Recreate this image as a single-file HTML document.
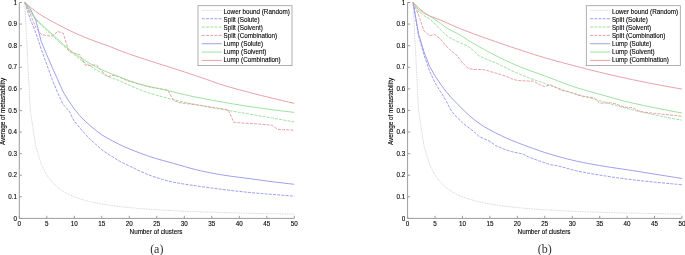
<!DOCTYPE html>
<html><head><meta charset="utf-8"><style>
html,body{margin:0;padding:0;background:#fff;width:685px;height:255px;overflow:hidden}
text{stroke:#000;stroke-width:0.1px}
svg{display:block;-webkit-font-smoothing:antialiased;will-change:transform;filter:blur(0.35px)}
</style></head><body>
<svg width="685" height="255" viewBox="0 0 685 255" font-family='"Liberation Sans", sans-serif' font-size="6.3" fill="#000">
<rect width="685" height="255" fill="#fff"/>
<polyline points="24.80,2.50 30.30,110.45 35.80,146.43 41.30,164.43 46.80,175.22 52.30,182.42 57.80,187.56 63.30,191.41 68.80,194.41 74.30,196.81 79.80,198.77 85.30,200.41 90.80,201.79 96.30,202.98 101.80,204.01 107.30,204.91 112.80,205.70 118.30,206.41 123.80,207.04 129.30,207.61 134.80,208.12 140.30,208.59 145.80,209.01 151.30,209.40 156.80,209.76 162.30,210.10 167.80,210.40 173.30,210.69 178.80,210.96 184.30,211.20 189.80,211.44 195.30,211.65 200.80,211.86 206.30,212.05 211.80,212.23 217.30,212.40 222.80,212.56 228.30,212.72 233.80,212.86 239.30,213.00 244.80,213.13 250.30,213.26 255.80,213.38 261.30,213.49 266.80,213.60 272.30,213.71 277.80,213.81 283.30,213.90 288.80,213.99 294.30,214.08" fill="none" stroke="#cdcdcd" stroke-width="0.9" stroke-dasharray="0.9,0.8"/>
<polyline points="24.80,2.50 30.30,19.34 35.80,32.73 41.30,49.35 46.80,64.68 52.30,79.79 57.80,93.18 63.30,104.62 68.80,110.45 74.30,121.25 79.80,127.72 85.30,134.20 90.80,140.03 96.30,144.78 101.80,149.74 107.30,153.63 112.80,156.87 118.30,160.54 123.80,163.35 129.30,165.94 134.80,168.57 140.30,171.23 145.80,173.72 151.30,175.82 156.80,177.68 162.30,179.37 167.80,180.86 173.30,182.13 178.80,183.19 184.30,184.11 189.80,184.95 195.30,185.74 200.80,186.53 206.30,187.31 211.80,188.06 217.30,188.78 222.80,189.47 228.30,190.14 233.80,190.78 239.30,191.40 244.80,191.99 250.30,192.55 255.80,193.05 261.30,193.53 266.80,193.98 272.30,194.44 277.80,194.88 283.30,195.32 288.80,195.75 294.30,196.16" fill="none" stroke="#9494ea" stroke-width="0.9" stroke-dasharray="3,1.2" stroke-linejoin="round"/>
<polyline points="24.80,2.50 30.30,12.22 35.80,19.77 41.30,25.17 46.80,30.57 52.30,35.53 57.80,40.71 63.30,45.68 68.80,50.43 74.30,54.75 79.80,59.07 85.30,62.95 90.80,66.41 96.30,69.86 101.80,73.14 107.30,76.15 112.80,78.45 118.30,80.25 123.80,82.66 129.30,85.38 134.80,87.69 140.30,89.85 145.80,91.85 151.30,93.67 156.80,95.30 162.30,96.78 167.80,98.21 173.30,99.58 178.80,100.90 184.30,102.16 189.80,103.37 195.30,104.52 200.80,105.61 206.30,106.65 211.80,107.65 217.30,108.61 222.80,109.56 228.30,110.48 233.80,111.40 239.30,112.33 244.80,113.26 250.30,114.22 255.80,115.18 261.30,116.14 266.80,117.11 272.30,118.07 277.80,119.02 283.30,119.98 288.80,120.94 294.30,121.89" fill="none" stroke="#94de94" stroke-width="0.9" stroke-dasharray="3,1.2" stroke-linejoin="round"/>
<polyline points="24.80,2.50 30.30,14.37 35.80,27.33 41.30,34.45 46.80,35.75 52.30,35.96 57.80,31.43 63.30,33.37 68.80,51.08 74.30,53.24 79.80,54.75 85.30,65.11 90.80,65.54 96.30,64.68 101.80,70.94 107.30,76.77 112.80,75.26 118.30,76.55 123.80,79.14 129.30,81.52 134.80,83.03 140.30,84.54 145.80,86.05 151.30,87.35 156.80,88.21 162.30,89.08 167.80,89.94 173.30,100.30 178.80,102.46 184.30,103.33 189.80,103.97 195.30,104.62 200.80,105.48 206.30,106.35 211.80,107.21 217.30,108.08 222.80,108.94 228.30,110.02 233.80,122.32 239.30,122.76 244.80,123.19 250.30,123.40 255.80,123.84 261.30,124.27 266.80,124.70 272.30,125.35 277.80,129.45 283.30,129.67 288.80,129.88 294.30,130.10" fill="none" stroke="#e6969c" stroke-width="0.9" stroke-dasharray="3,1.2" stroke-linejoin="round"/>
<polyline points="24.80,2.50 30.30,8.98 35.80,20.20 41.30,41.79 46.80,54.96 52.30,67.70 57.80,79.79 63.30,92.10 68.80,101.17 74.30,108.94 79.80,115.63 85.30,121.25 90.80,126.21 96.30,130.74 101.80,134.85 107.30,138.09 112.80,141.11 118.30,143.91 123.80,146.51 129.30,148.88 134.80,151.04 140.30,153.20 145.80,155.14 151.30,157.08 156.80,158.77 162.30,160.33 167.80,161.84 173.30,163.35 178.80,164.91 184.30,166.49 189.80,168.05 195.30,169.50 200.80,170.81 206.30,171.99 211.80,173.08 217.30,174.08 222.80,175.00 228.30,175.84 233.80,176.60 239.30,177.31 244.80,178.02 250.30,178.75 255.80,179.50 261.30,180.25 266.80,180.99 272.30,181.70 277.80,182.38 283.30,183.04 288.80,183.67 294.30,184.29" fill="none" stroke="#9494ea" stroke-width="0.9" stroke-linejoin="round"/>
<polyline points="24.80,2.50 30.30,11.57 35.80,18.69 41.30,24.09 46.80,29.27 52.30,34.24 57.80,39.20 63.30,44.38 68.80,49.13 74.30,53.45 79.80,57.34 85.30,60.79 90.80,64.03 96.30,67.05 101.80,69.72 107.30,72.17 112.80,74.38 118.30,76.37 123.80,78.53 129.30,80.68 134.80,82.49 140.30,84.15 145.80,85.65 151.30,87.00 156.80,88.16 162.30,89.35 167.80,90.63 173.30,91.95 178.80,93.27 184.30,94.56 189.80,95.81 195.30,96.96 200.80,98.05 206.30,99.12 211.80,100.17 217.30,101.18 222.80,102.16 228.30,103.12 233.80,104.05 239.30,104.94 244.80,105.81 250.30,106.65 255.80,107.45 261.30,108.24 266.80,109.00 272.30,109.73 277.80,110.44 283.30,111.12 288.80,111.77 294.30,112.39" fill="none" stroke="#94de94" stroke-width="0.9" stroke-linejoin="round"/>
<polyline points="24.80,2.50 30.30,7.25 35.80,11.57 41.30,15.24 46.80,18.48 52.30,21.50 57.80,24.52 63.30,27.33 68.80,30.14 74.30,32.73 79.80,35.10 85.30,37.48 90.80,39.63 96.30,41.79 101.80,43.70 107.30,45.55 112.80,47.65 118.30,49.99 123.80,52.08 129.30,54.05 134.80,55.94 140.30,57.77 145.80,59.57 151.30,61.37 156.80,63.12 162.30,64.84 167.80,66.57 173.30,68.34 178.80,70.12 184.30,71.92 189.80,73.74 195.30,75.57 200.80,77.43 206.30,79.31 211.80,81.29 217.30,83.26 222.80,85.06 228.30,86.70 233.80,88.26 239.30,89.76 244.80,91.22 250.30,92.68 255.80,94.10 261.30,95.49 266.80,96.85 272.30,98.19 277.80,99.50 283.30,100.80 288.80,102.08 294.30,103.33" fill="none" stroke="#e6969c" stroke-width="0.9" stroke-linejoin="round"/>
<path d="M19.30,2.50 V218.40 H294.30" fill="none" stroke="#9c9c9c" stroke-width="1"/>
<path d="M19.30,218.40 v-2.6" stroke="#9c9c9c" stroke-width="1"/>
<text x="19.30" y="225.80" text-anchor="middle">0</text>
<path d="M46.80,218.40 v-2.6" stroke="#9c9c9c" stroke-width="1"/>
<text x="46.80" y="225.80" text-anchor="middle">5</text>
<path d="M74.30,218.40 v-2.6" stroke="#9c9c9c" stroke-width="1"/>
<text x="74.30" y="225.80" text-anchor="middle">10</text>
<path d="M101.80,218.40 v-2.6" stroke="#9c9c9c" stroke-width="1"/>
<text x="101.80" y="225.80" text-anchor="middle">15</text>
<path d="M129.30,218.40 v-2.6" stroke="#9c9c9c" stroke-width="1"/>
<text x="129.30" y="225.80" text-anchor="middle">20</text>
<path d="M156.80,218.40 v-2.6" stroke="#9c9c9c" stroke-width="1"/>
<text x="156.80" y="225.80" text-anchor="middle">25</text>
<path d="M184.30,218.40 v-2.6" stroke="#9c9c9c" stroke-width="1"/>
<text x="184.30" y="225.80" text-anchor="middle">30</text>
<path d="M211.80,218.40 v-2.6" stroke="#9c9c9c" stroke-width="1"/>
<text x="211.80" y="225.80" text-anchor="middle">35</text>
<path d="M239.30,218.40 v-2.6" stroke="#9c9c9c" stroke-width="1"/>
<text x="239.30" y="225.80" text-anchor="middle">40</text>
<path d="M266.80,218.40 v-2.6" stroke="#9c9c9c" stroke-width="1"/>
<text x="266.80" y="225.80" text-anchor="middle">45</text>
<path d="M294.30,218.40 v-2.6" stroke="#9c9c9c" stroke-width="1"/>
<text x="294.30" y="225.80" text-anchor="middle">50</text>
<path d="M19.30,218.40 h2.6" stroke="#9c9c9c" stroke-width="1"/>
<text x="16.90" y="220.60" text-anchor="end">0</text>
<path d="M19.30,196.81 h2.6" stroke="#9c9c9c" stroke-width="1"/>
<text x="16.90" y="199.01" text-anchor="end">0.1</text>
<path d="M19.30,175.22 h2.6" stroke="#9c9c9c" stroke-width="1"/>
<text x="16.90" y="177.42" text-anchor="end">0.2</text>
<path d="M19.30,153.63 h2.6" stroke="#9c9c9c" stroke-width="1"/>
<text x="16.90" y="155.83" text-anchor="end">0.3</text>
<path d="M19.30,132.04 h2.6" stroke="#9c9c9c" stroke-width="1"/>
<text x="16.90" y="134.24" text-anchor="end">0.4</text>
<path d="M19.30,110.45 h2.6" stroke="#9c9c9c" stroke-width="1"/>
<text x="16.90" y="112.65" text-anchor="end">0.5</text>
<path d="M19.30,88.86 h2.6" stroke="#9c9c9c" stroke-width="1"/>
<text x="16.90" y="91.06" text-anchor="end">0.6</text>
<path d="M19.30,67.27 h2.6" stroke="#9c9c9c" stroke-width="1"/>
<text x="16.90" y="69.47" text-anchor="end">0.7</text>
<path d="M19.30,45.68 h2.6" stroke="#9c9c9c" stroke-width="1"/>
<text x="16.90" y="47.88" text-anchor="end">0.8</text>
<path d="M19.30,24.09 h2.6" stroke="#9c9c9c" stroke-width="1"/>
<text x="16.90" y="26.29" text-anchor="end">0.9</text>
<path d="M19.30,2.50 h2.6" stroke="#9c9c9c" stroke-width="1"/>
<text x="16.90" y="4.70" text-anchor="end">1</text>
<text x="156.00" y="234.20" text-anchor="middle">Number of clusters</text>
<text transform="translate(5.10,111.50) rotate(-90)" x="0" y="0" text-anchor="middle">Average of metastability</text>
<rect x="198.00" y="5.7" width="94" height="59.9" fill="#fff" stroke="#9c9c9c" stroke-width="0.8"/>
<path d="M201.80,10.40 h20.1" stroke="#cdcdcd" stroke-width="0.9" stroke-dasharray="0.9,0.8"/>
<text x="223.60" y="13.60">Lower bound (Random)</text>
<path d="M201.80,18.73 h20.1" stroke="#9494ea" stroke-width="0.9" stroke-dasharray="3,1.2"/>
<text x="223.60" y="21.70">Split (Solute)</text>
<path d="M201.80,27.06 h20.1" stroke="#94de94" stroke-width="0.9" stroke-dasharray="3,1.2"/>
<text x="223.60" y="29.80">Split (Solvent)</text>
<path d="M201.80,35.39 h20.1" stroke="#e6969c" stroke-width="0.9" stroke-dasharray="3,1.2"/>
<text x="223.60" y="37.90">Split (Combination)</text>
<path d="M201.80,43.72 h20.1" stroke="#9494ea" stroke-width="0.9"/>
<text x="223.60" y="46.00">Lump (Solute)</text>
<path d="M201.80,52.05 h20.1" stroke="#94de94" stroke-width="0.9"/>
<text x="223.60" y="54.10">Lump (Solvent)</text>
<path d="M201.80,60.38 h20.1" stroke="#e6969c" stroke-width="0.9"/>
<text x="223.60" y="62.20">Lump (Combination)</text>
<text x="156.80" y="253" text-anchor="middle" font-family="Liberation Serif, serif" font-size="12" fill="#333" style="stroke:none">(a)</text>
<polyline points="413.09,2.50 418.58,110.45 424.06,146.43 429.55,164.43 435.04,175.22 440.53,182.42 446.02,187.56 451.50,191.41 456.99,194.41 462.48,196.81 467.97,198.77 473.46,200.41 478.94,201.79 484.43,202.98 489.92,204.01 495.41,204.91 500.90,205.70 506.38,206.41 511.87,207.04 517.36,207.61 522.85,208.12 528.34,208.59 533.82,209.01 539.31,209.40 544.80,209.76 550.29,210.10 555.78,210.40 561.26,210.69 566.75,210.96 572.24,211.20 577.73,211.44 583.22,211.65 588.70,211.86 594.19,212.05 599.68,212.23 605.17,212.40 610.66,212.56 616.14,212.72 621.63,212.86 627.12,213.00 632.61,213.13 638.10,213.26 643.58,213.38 649.07,213.49 654.56,213.60 660.05,213.71 665.54,213.81 671.02,213.90 676.51,213.99 682.00,214.08" fill="none" stroke="#cdcdcd" stroke-width="0.9" stroke-dasharray="0.9,0.8"/>
<polyline points="413.09,2.50 418.58,35.96 424.06,54.96 429.55,71.16 435.04,82.81 440.53,91.67 446.02,100.73 451.50,111.10 456.99,117.36 462.48,122.76 467.97,127.07 473.46,131.18 478.94,136.36 484.43,138.95 489.92,141.32 495.41,145.43 500.90,147.80 506.38,149.96 511.87,151.69 517.36,152.77 522.85,154.06 528.34,156.87 533.82,159.03 539.31,160.97 544.80,162.70 550.29,164.64 555.78,165.50 561.26,166.74 566.75,168.25 572.24,169.79 577.73,171.12 583.22,172.22 588.70,173.23 594.19,174.18 599.68,175.09 605.17,175.96 610.66,176.82 616.14,177.66 621.63,178.45 627.12,179.16 632.61,179.82 638.10,180.43 643.58,181.01 649.07,181.57 654.56,182.13 660.05,182.68 665.54,183.21 671.02,183.73 676.51,184.23 682.00,184.72" fill="none" stroke="#9494ea" stroke-width="0.9" stroke-dasharray="3,1.2" stroke-linejoin="round"/>
<polyline points="413.09,2.50 418.58,11.56 424.06,15.61 429.55,18.78 435.04,24.05 440.53,29.63 446.02,34.92 451.50,38.72 456.99,41.35 462.48,43.80 467.97,46.24 473.46,50.71 478.94,55.73 484.43,58.42 489.92,60.53 495.41,62.77 500.90,65.36 506.38,68.06 511.87,70.73 517.36,73.25 522.85,75.51 528.34,77.61 533.82,79.61 539.31,81.54 544.80,83.46 550.29,85.39 555.78,87.29 561.26,89.16 566.75,90.98 572.24,92.75 577.73,94.45 583.22,96.07 588.70,97.64 594.19,99.18 599.68,100.73 605.17,102.31 610.66,103.89 616.14,105.46 621.63,106.98 627.12,108.44 632.61,109.86 638.10,111.24 643.58,112.55 649.07,113.77 654.56,114.95 660.05,116.09 665.54,117.19 671.02,118.24 676.51,119.23 682.00,120.17" fill="none" stroke="#94de94" stroke-width="0.9" stroke-dasharray="3,1.2" stroke-linejoin="round"/>
<polyline points="413.09,2.50 418.58,15.07 424.06,31.10 429.55,35.66 435.04,34.65 440.53,39.26 446.02,45.92 451.50,51.18 456.99,55.41 462.48,62.83 467.97,68.13 473.46,69.43 478.94,69.43 484.43,69.76 489.92,71.40 495.41,73.05 500.90,74.72 506.38,76.39 511.87,78.91 517.36,80.42 522.85,80.81 528.34,81.09 533.82,81.09 539.31,84.64 544.80,86.58 550.29,84.76 555.78,87.53 561.26,90.31 566.75,91.49 572.24,92.92 577.73,94.98 583.22,96.56 588.70,97.05 594.19,98.00 599.68,103.04 605.17,103.10 610.66,102.61 616.14,104.04 621.63,106.31 627.12,107.42 632.61,107.76 638.10,110.71 643.58,112.11 649.07,112.75 654.56,113.34 660.05,113.92 665.54,114.51 671.02,115.10 676.51,115.69 682.00,116.28" fill="none" stroke="#e6969c" stroke-width="0.9" stroke-dasharray="3,1.2" stroke-linejoin="round"/>
<polyline points="413.09,2.50 418.58,33.81 424.06,52.16 429.55,66.19 435.04,75.91 440.53,84.11 446.02,91.45 451.50,97.93 456.99,103.54 462.48,109.15 467.97,114.34 473.46,119.09 478.94,123.19 484.43,126.86 489.92,129.88 495.41,132.90 500.90,135.49 506.38,138.09 511.87,140.46 517.36,142.62 522.85,144.69 528.34,146.74 533.82,148.75 539.31,150.69 544.80,152.52 550.29,154.23 555.78,155.83 561.26,157.37 566.75,158.82 572.24,160.17 577.73,161.40 583.22,162.54 588.70,163.60 594.19,164.59 599.68,165.53 605.17,166.44 610.66,167.32 616.14,168.13 621.63,168.91 627.12,169.73 632.61,170.59 638.10,171.47 643.58,172.37 649.07,173.26 654.56,174.14 660.05,175.01 665.54,175.88 671.02,176.74 676.51,177.60 682.00,178.46" fill="none" stroke="#9494ea" stroke-width="0.9" stroke-linejoin="round"/>
<polyline points="413.09,2.50 418.58,9.81 424.06,13.18 429.55,15.73 435.04,19.48 440.53,23.49 446.02,27.54 451.50,30.78 456.99,33.28 462.48,36.44 467.97,40.11 473.46,43.45 478.94,46.61 484.43,49.65 489.92,52.59 495.41,55.40 500.90,58.11 506.38,60.75 511.87,63.30 517.36,65.71 522.85,67.94 528.34,70.01 533.82,71.98 539.31,73.92 544.80,75.91 550.29,77.98 555.78,80.10 561.26,82.22 566.75,84.28 572.24,86.22 577.73,88.00 583.22,89.65 588.70,91.21 594.19,92.74 599.68,94.26 605.17,95.81 610.66,97.36 616.14,98.90 621.63,100.38 627.12,101.79 632.61,103.10 638.10,104.31 643.58,105.46 649.07,106.60 654.56,107.72 660.05,108.83 665.54,109.92 671.02,110.98 676.51,112.02 682.00,113.04" fill="none" stroke="#94de94" stroke-width="0.9" stroke-linejoin="round"/>
<polyline points="413.09,2.50 418.58,7.85 424.06,12.51 429.55,15.93 435.04,18.01 440.53,20.08 446.02,22.50 451.50,24.97 456.99,27.31 462.48,29.53 467.97,31.67 473.46,33.73 478.94,35.74 484.43,37.70 489.92,39.63 495.41,41.56 500.90,43.47 506.38,45.36 511.87,47.22 517.36,49.06 522.85,50.86 528.34,52.65 533.82,54.41 539.31,56.12 544.80,57.77 550.29,59.35 555.78,60.87 561.26,62.36 566.75,63.81 572.24,65.26 577.73,66.69 583.22,68.12 588.70,69.52 594.19,70.90 599.68,72.24 605.17,73.54 610.66,74.82 616.14,76.07 621.63,77.30 627.12,78.50 632.61,79.67 638.10,80.82 643.58,81.94 649.07,83.04 654.56,84.11 660.05,85.15 665.54,86.17 671.02,87.17 676.51,88.13 682.00,89.08" fill="none" stroke="#e6969c" stroke-width="0.9" stroke-linejoin="round"/>
<path d="M407.60,2.50 V218.40 H682.00" fill="none" stroke="#9c9c9c" stroke-width="1"/>
<path d="M407.60,218.40 v-2.6" stroke="#9c9c9c" stroke-width="1"/>
<text x="407.60" y="225.80" text-anchor="middle">0</text>
<path d="M435.04,218.40 v-2.6" stroke="#9c9c9c" stroke-width="1"/>
<text x="435.04" y="225.80" text-anchor="middle">5</text>
<path d="M462.48,218.40 v-2.6" stroke="#9c9c9c" stroke-width="1"/>
<text x="462.48" y="225.80" text-anchor="middle">10</text>
<path d="M489.92,218.40 v-2.6" stroke="#9c9c9c" stroke-width="1"/>
<text x="489.92" y="225.80" text-anchor="middle">15</text>
<path d="M517.36,218.40 v-2.6" stroke="#9c9c9c" stroke-width="1"/>
<text x="517.36" y="225.80" text-anchor="middle">20</text>
<path d="M544.80,218.40 v-2.6" stroke="#9c9c9c" stroke-width="1"/>
<text x="544.80" y="225.80" text-anchor="middle">25</text>
<path d="M572.24,218.40 v-2.6" stroke="#9c9c9c" stroke-width="1"/>
<text x="572.24" y="225.80" text-anchor="middle">30</text>
<path d="M599.68,218.40 v-2.6" stroke="#9c9c9c" stroke-width="1"/>
<text x="599.68" y="225.80" text-anchor="middle">35</text>
<path d="M627.12,218.40 v-2.6" stroke="#9c9c9c" stroke-width="1"/>
<text x="627.12" y="225.80" text-anchor="middle">40</text>
<path d="M654.56,218.40 v-2.6" stroke="#9c9c9c" stroke-width="1"/>
<text x="654.56" y="225.80" text-anchor="middle">45</text>
<path d="M682.00,218.40 v-2.6" stroke="#9c9c9c" stroke-width="1"/>
<text x="682.00" y="225.80" text-anchor="middle">50</text>
<path d="M407.60,218.40 h2.6" stroke="#9c9c9c" stroke-width="1"/>
<text x="405.20" y="220.60" text-anchor="end">0</text>
<path d="M407.60,196.81 h2.6" stroke="#9c9c9c" stroke-width="1"/>
<text x="405.20" y="199.01" text-anchor="end">0.1</text>
<path d="M407.60,175.22 h2.6" stroke="#9c9c9c" stroke-width="1"/>
<text x="405.20" y="177.42" text-anchor="end">0.2</text>
<path d="M407.60,153.63 h2.6" stroke="#9c9c9c" stroke-width="1"/>
<text x="405.20" y="155.83" text-anchor="end">0.3</text>
<path d="M407.60,132.04 h2.6" stroke="#9c9c9c" stroke-width="1"/>
<text x="405.20" y="134.24" text-anchor="end">0.4</text>
<path d="M407.60,110.45 h2.6" stroke="#9c9c9c" stroke-width="1"/>
<text x="405.20" y="112.65" text-anchor="end">0.5</text>
<path d="M407.60,88.86 h2.6" stroke="#9c9c9c" stroke-width="1"/>
<text x="405.20" y="91.06" text-anchor="end">0.6</text>
<path d="M407.60,67.27 h2.6" stroke="#9c9c9c" stroke-width="1"/>
<text x="405.20" y="69.47" text-anchor="end">0.7</text>
<path d="M407.60,45.68 h2.6" stroke="#9c9c9c" stroke-width="1"/>
<text x="405.20" y="47.88" text-anchor="end">0.8</text>
<path d="M407.60,24.09 h2.6" stroke="#9c9c9c" stroke-width="1"/>
<text x="405.20" y="26.29" text-anchor="end">0.9</text>
<path d="M407.60,2.50 h2.6" stroke="#9c9c9c" stroke-width="1"/>
<text x="405.20" y="4.70" text-anchor="end">1</text>
<text x="544.00" y="234.20" text-anchor="middle">Number of clusters</text>
<text transform="translate(392.50,111.50) rotate(-90)" x="0" y="0" text-anchor="middle">Average of metastability</text>
<rect x="586.30" y="5.7" width="94" height="59.9" fill="#fff" stroke="#9c9c9c" stroke-width="0.8"/>
<path d="M590.10,10.40 h20.1" stroke="#cdcdcd" stroke-width="0.9" stroke-dasharray="0.9,0.8"/>
<text x="611.90" y="13.60">Lower bound (Random)</text>
<path d="M590.10,18.73 h20.1" stroke="#9494ea" stroke-width="0.9" stroke-dasharray="3,1.2"/>
<text x="611.90" y="21.70">Split (Solute)</text>
<path d="M590.10,27.06 h20.1" stroke="#94de94" stroke-width="0.9" stroke-dasharray="3,1.2"/>
<text x="611.90" y="29.80">Split (Solvent)</text>
<path d="M590.10,35.39 h20.1" stroke="#e6969c" stroke-width="0.9" stroke-dasharray="3,1.2"/>
<text x="611.90" y="37.90">Split (Combination)</text>
<path d="M590.10,43.72 h20.1" stroke="#9494ea" stroke-width="0.9"/>
<text x="611.90" y="46.00">Lump (Solute)</text>
<path d="M590.10,52.05 h20.1" stroke="#94de94" stroke-width="0.9"/>
<text x="611.90" y="54.10">Lump (Solvent)</text>
<path d="M590.10,60.38 h20.1" stroke="#e6969c" stroke-width="0.9"/>
<text x="611.90" y="62.20">Lump (Combination)</text>
<text x="544.80" y="253" text-anchor="middle" font-family="Liberation Serif, serif" font-size="12" fill="#333" style="stroke:none">(b)</text>
</svg>
</body></html>
